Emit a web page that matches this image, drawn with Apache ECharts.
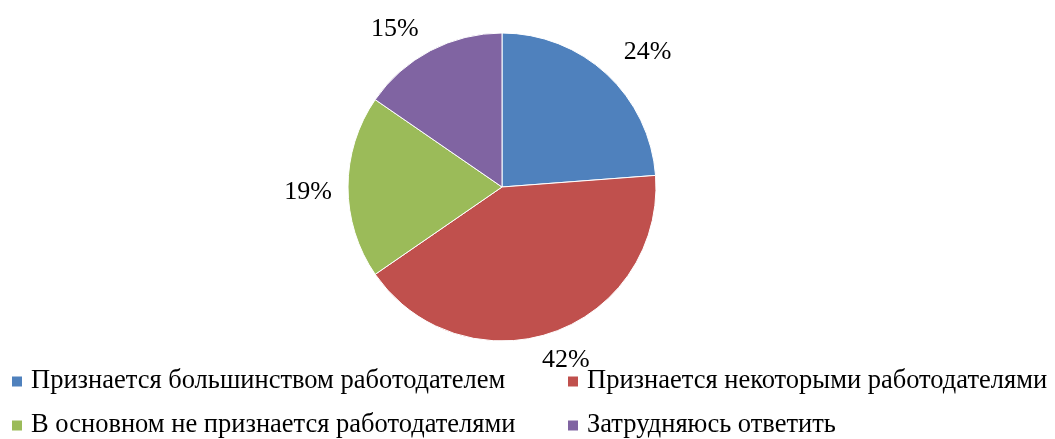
<!DOCTYPE html>
<html>
<head>
<meta charset="utf-8">
<script src="https://cdn.jsdelivr.net/npm/echarts@6/dist/echarts.min.js"></script>
<style>
  html, body { margin: 0; padding: 0; background: #fff; }
  #main { width: 1055px; height: 439px; }
</style>
</head>
<body>
<div id="main"></div>
<script>
var names = [
	"Признается большинством работодателем",
	"Признается некоторыми работодателями",
	"В основном не признается работодателями",
	"Затрудняюсь ответить"
];
var values = [23.8, 41.6, 19.2, 15.4];
var colors = ["#4F81BD", "#C0504D", "#9BBB59", "#8064A2"];

// сдвиги подписей (как в Excel)
var labelOffsets = [[11, 10], [-2, -14], [4, 5], [-15, 17]];

var chart = echarts.init(document.getElementById("main"));

var pieData = names.map(function (n, i) {
	return { name: n, value: values[i] };
});
var labelData = names.map(function (n, i) {
	return { name: n, value: values[i], label: { offset: labelOffsets[i] } };
});

var font = "'Liberation Serif', 'Times New Roman', serif";

// легенда: 2 x 2
var legendPos = [
	{ left: 10, top: 368 },
	{ left: 566, top: 368 },
	{ left: 10, top: 412 },
	{ left: 566, top: 412 }
];
var legends = names.map(function (n, i) {
	return {
		data: [n],
		left: legendPos[i].left,
		top: legendPos[i].top,
		padding: 0,
		icon: "rect",
		itemWidth: 12,
		itemHeight: 12,
		itemGap: 0,
		selectedMode: false,
		textStyle: { fontFamily: font, fontSize: 26.5, color: "#000", padding: [0, 0, 0, 3] }
	};
});

var option = {
	animation: false,
	color: colors,
	legend: legends,
	series: [
		{
			name: "main",
			type: "pie",
			center: [502, 187],
			radius: 154,
			startAngle: 90,
			clockwise: true,
			itemStyle: { borderColor: "#fff", borderWidth: 1 },
			label: { show: false },
			labelLine: { show: false },
			data: pieData
		},
		{
			// подписи процентов
			name: "labels",
			type: "pie",
			center: [502, 187],
			radius: [176, 214],
			startAngle: 90,
			clockwise: true,
			silent: true,
			percentPrecision: 0,
			itemStyle: { color: "transparent" },
			label: {
				show: true,
				position: "inside",
				formatter: "{d}%",
				fontFamily: font,
				fontSize: 26,
				color: "#000"
			},
			labelLine: { show: false },
			data: labelData
		}
	]
};

chart.setOption(option);
</script>
</body>
</html>
